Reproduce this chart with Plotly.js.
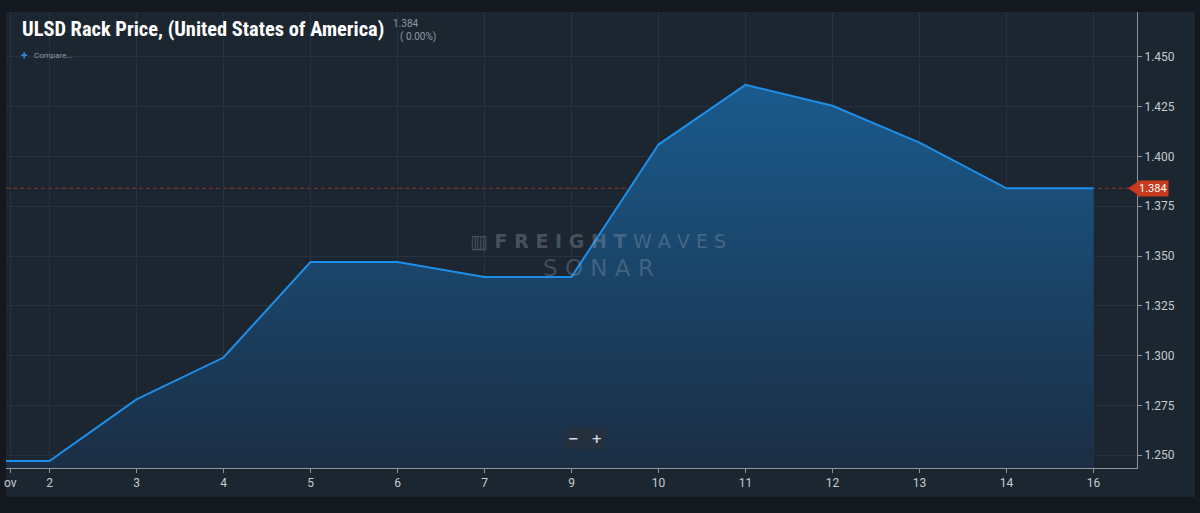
<!DOCTYPE html>
<html>
<head>
<meta charset="utf-8">
<script src="https://cdn.plot.ly/plotly-3.0.1.min.js"></script>
<style>
html,body{margin:0;padding:0;background:#141920;}
#chart{width:1200px;height:513px;}
</style>
</head>
<body>
<div id="chart"></div>
<script>
// ---- data ----
const dateLabels = ["Nov 1","2","3","4","5","6","7","9","10","11","12","13","14","16"];
const tickLabels = ["ov","2","3","4","5","6","7","9","10","11","12","13","14","16"];
const prices = [1.247,1.247,1.278,1.299,1.347,1.347,1.3395,1.3395,1.406,1.436,1.4255,1.407,1.384,1.384];
const lastPrice = 1.384;
const changeText = "( 0.00%)";
const yTicks = [1.250,1.275,1.300,1.325,1.350,1.375,1.400,1.425,1.450];

const xIdx = dateLabels.map((_, i) => i);
const tickVals = tickLabels.map((_, i) => i === 0 ? 0.55 : i);

// pixel helpers for paper coords (plot area: x 6..1137, y 12..468)
const L = 6, R = 1137, T = 12, B = 468;
const px = x => (x - L) / (R - L);
const py = y => (B - y) / (B - T);

const trace = {
  x: xIdx,
  y: prices,
  text: dateLabels,
  type: 'scatter',
  mode: 'lines',
  line: {color: '#1e8fe8', width: 2},
  fill: 'tozeroy',
  fillgradient: {
    type: 'vertical',
    start: 1.2435,
    stop: 1.44,
    colorscale: [[0, '#1b2e44'], [1, '#1a5b8e']]
  },
  hoverinfo: 'skip'
};

const layout = {
  width: 1200,
  height: 513,
  margin: {l: L, r: 1200 - R, t: T, b: 513 - B, pad: 0},
  paper_bgcolor: '#141920',
  plot_bgcolor: '#1c2631',
  showlegend: false,
  xaxis: {
    range: [0.5, 13.5],
    tickmode: 'array',
    tickvals: tickVals,
    ticktext: tickLabels,
    showgrid: true,
    gridcolor: '#263240',
    gridwidth: 1,
    zeroline: false,
    showline: true,
    linecolor: '#8b96a2',
    linewidth: 1,
    ticks: 'outside',
    ticklen: 4,
    tickcolor: '#8b96a2',
    tickfont: {family: 'Roboto, sans-serif', size: 12, color: '#c3cad2'},
    fixedrange: true
  },
  yaxis: {
    side: 'right',
    range: [1.2435, 1.4726],
    tickmode: 'array',
    tickvals: yTicks,
    ticktext: yTicks.map(v => v.toFixed(3)),
    showgrid: true,
    gridcolor: '#263240',
    gridwidth: 1,
    zeroline: false,
    showline: true,
    linecolor: '#8b96a2',
    linewidth: 1,
    ticks: 'outside',
    ticklen: 4,
    tickcolor: '#8b96a2',
    tickfont: {family: 'Roboto, sans-serif', size: 12, color: '#c3cad2'},
    fixedrange: true
  },
  shapes: [
    // panel background
    {type: 'rect', xref: 'paper', yref: 'paper', x0: 0, x1: px(1195), y0: py(497), y1: 1,
     fillcolor: '#1c2631', line: {width: 0}, layer: 'below'},
    // last price dashed line
    {type: 'line', xref: 'paper', yref: 'y', x0: 0, x1: 1, y0: lastPrice, y1: lastPrice,
     line: {color: '#9a3128', width: 1, dash: '4px,3px'}, layer: 'below'},
    // tag arrow
    {type: 'path', xref: 'paper', yref: 'y',
     path: `M ${px(1128)} ${lastPrice} L ${px(1138)} ${lastPrice + 0.0034} L ${px(1138)} ${lastPrice - 0.0034} Z`,
     fillcolor: '#c73a1c', line: {width: 0}}
  ],
  annotations: [
    {xref: 'paper', yref: 'paper', x: px(20), y: py(29), xanchor: 'left', yanchor: 'middle',
     text: '<b>ULSD Rack Price, (United States of America)</b>', showarrow: false,
     font: {family: 'Liberation Sans Narrow, Roboto Condensed, Roboto, sans-serif', size: 20.4, color: '#ffffff'}},
    {xref: 'paper', yref: 'paper', x: px(391), y: py(23), xanchor: 'left', yanchor: 'middle',
     text: lastPrice.toFixed(3), showarrow: false,
     font: {family: 'Roboto, sans-serif', size: 10, color: '#8d98a4'}},
    {xref: 'paper', yref: 'paper', x: px(398), y: py(37), xanchor: 'left', yanchor: 'middle',
     text: changeText, showarrow: false,
     font: {family: 'Roboto, sans-serif', size: 10, color: '#8d98a4'}},
    {xref: 'paper', yref: 'paper', x: px(19), y: py(56), xanchor: 'left', yanchor: 'middle',
     text: '<b>+</b>', showarrow: false,
     font: {family: 'Roboto, sans-serif', size: 12, color: '#2f86dc'}},
    {xref: 'paper', yref: 'paper', x: px(32), y: py(56), xanchor: 'left', yanchor: 'middle',
     text: 'Compare...', showarrow: false,
     font: {family: 'Roboto, sans-serif', size: 8, color: '#8d98a4'}},
    // watermark
    {xref: 'paper', yref: 'paper', x: px(598), y: py(241), xanchor: 'center', yanchor: 'middle',
     text: '<b>▥ F R E I G H T </b>W A V E S', showarrow: false,
     font: {family: 'DejaVu Sans, sans-serif', size: 19, color: 'rgba(150,162,176,0.36)'}},
    {xref: 'paper', yref: 'paper', x: px(598), y: py(268), xanchor: 'center', yanchor: 'middle',
     text: 'S O N A R', showarrow: false,
     font: {family: 'DejaVu Sans, sans-serif', size: 23, color: 'rgba(150,162,176,0.33)'}},
    // zoom buttons
    {xref: 'paper', yref: 'paper', x: px(585), y: py(438), xanchor: 'center', yanchor: 'middle',
     text: '<b>−</b>   <b>+</b>', showarrow: false, bgcolor: '#24303e', borderpad: 3,
     font: {family: 'DejaVu Sans, sans-serif', size: 13, color: '#d5dbe1'}},
    // last price tag
    {xref: 'paper', yref: 'y', x: px(1137), y: lastPrice, xanchor: 'left', yanchor: 'middle',
     text: lastPrice.toFixed(3), showarrow: false, bgcolor: '#c73a1c', borderpad: 1,
     font: {family: 'Roboto, sans-serif', size: 11, color: '#ffffff'}}
  ]
};

Plotly.newPlot('chart', [trace], layout, {displayModeBar: false, staticPlot: true});
</script>
</body>
</html>
